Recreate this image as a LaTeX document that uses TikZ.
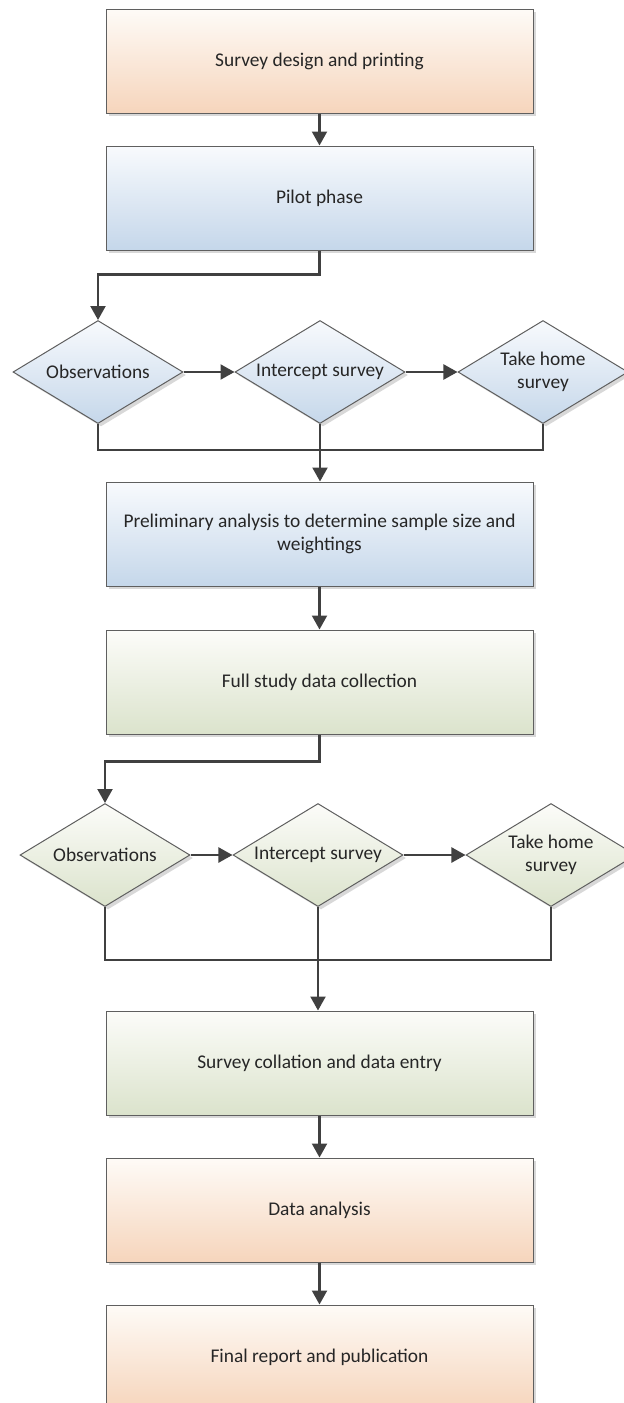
\documentclass[tikz,border=0pt]{standalone}
\usepackage{fontspec}
\setmainfont{Carlito}
\usepackage{xcolor}
\usepackage{tikz}
\usetikzlibrary{arrows.meta,calc,positioning,shapes.geometric,shadows}

\definecolor{orTop}{RGB}{254,251,247}
\definecolor{orBot}{RGB}{246,213,188}
\definecolor{blTop}{RGB}{248,250,253}
\definecolor{blBot}{RGB}{197,215,234}
\definecolor{grTop}{RGB}{252,252,249}
\definecolor{grBot}{RGB}{219,227,204}
\definecolor{edgeGray}{RGB}{95,95,95}
\definecolor{lineGray}{RGB}{64,64,64}

\begin{document}
\begin{tikzpicture}[x=0.5pt,y=-0.5pt,line width=0.5pt,
    font=\fontsize{9.7pt}{11.6pt}\selectfont,
    shd/.style={drop shadow={shadow xshift=1.5pt,shadow yshift=-1.5pt,fill=black!30,opacity=0.5}},
    box/.style={rectangle, draw=edgeGray, minimum width=213.5pt, minimum height=52pt,
      inner sep=0pt, text=black!85, align=center, shd},
    dia/.style={diamond, aspect=1.65, draw=edgeGray, minimum width=85pt, minimum height=51.5pt,
      inner sep=0pt, text=black!85, align=center, shd},
    orbox/.style={box, top color=orTop, bottom color=orBot},
    blbox/.style={box, top color=blTop, bottom color=blBot},
    grbox/.style={box, top color=grTop, bottom color=grBot},
    bldia/.style={dia, top color=blTop, bottom color=blBot},
    grdia/.style={dia, top color=grTop, bottom color=grBot},
    lnk/.style={draw=lineGray, line width=1.1pt},
    arr/.style={lnk, -{Triangle[length=7pt,width=7.5pt]}}]
  \useasboundingbox (0,0) rectangle (624,1403);

  % pilot stage
  \node[orbox] (design) at (319.5,61) {Survey design and printing};
  \node[blbox] (pilot) at (319.5,198) {Pilot phase};
  \node[bldia] (obsA) at (98,372) {Observations};
  \node[bldia] (intA) at (320,372) {Intercept survey};
  \node[bldia] (homeA) at (543,372) {Take home\\survey};
  \node[blbox] (prelim) at (319.5,534) {Preliminary analysis to determine sample size and\\weightings};

  % full study
  \node[grbox] (full) at (319.5,682) {Full study data collection};
  \node[grdia] (obsB) at (105,855) {Observations};
  \node[grdia] (intB) at (318,855) {Intercept survey};
  \node[grdia] (homeB) at (551,855) {Take home\\survey};
  \node[grbox] (collate) at (319.5,1063) {Survey collation and data entry};
  \node[orbox] (analysis) at (319.5,1210) {Data analysis};
  \node[orbox] (report) at (319.5,1357) {Final report and publication};

  \draw[arr] (design) -- (pilot);
  \draw[arr] (pilot.south) -- ++(0,24) -| (obsA.north);
  \draw[arr] (obsA) -- (intA);
  \draw[arr] (intA) -- (homeA);
  \draw[lnk] (obsA.south) -- ++(0,26) -| (homeA.south);
  \draw[arr] (intA.south) -- (intA.south |- prelim.north);
  \draw[arr] (prelim) -- (full);

  \draw[arr] (full.south) -- ++(0,27) -| (obsB.north);
  \draw[arr] (obsB) -- (intB);
  \draw[arr] (intB) -- (homeB);
  \draw[lnk] (obsB.south) -- ++(0,53) -| (homeB.south);
  \draw[arr] (intB.south) -- (intB.south |- collate.north);
  \draw[arr] (collate) -- (analysis);
  \draw[arr] (analysis) -- (report);
\end{tikzpicture}
\end{document}
